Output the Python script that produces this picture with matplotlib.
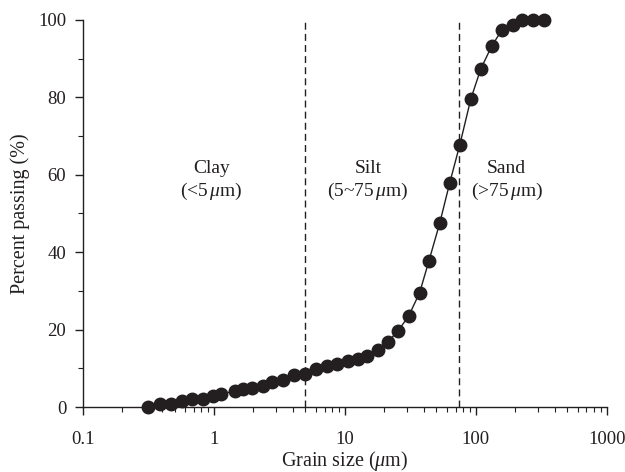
import matplotlib
matplotlib.use('Agg')
import matplotlib.pyplot as plt

# grain size distribution
grain_size = [0.313, 0.387, 0.47, 0.57, 0.68, 0.82, 0.98, 1.13, 1.45, 1.66,
              1.95, 2.37, 2.8, 3.36, 4.08, 4.95, 6.0, 7.3, 8.7, 10.5,
              12.6, 14.7, 17.9, 21.2, 25.4, 30.7, 37.2, 43.8, 53.0, 63.2,
              75.4, 91.6, 109, 132, 158, 191, 224, 272, 330]
passing = [0.0, 0.8, 0.8, 1.5, 2.0, 2.0, 2.8, 3.4, 4.1, 4.6,
           4.9, 5.4, 6.5, 7.0, 8.3, 8.5, 9.8, 10.6, 11.1, 11.9,
           12.4, 13.2, 14.7, 16.8, 19.6, 23.5, 29.5, 37.7, 47.5, 57.9,
           67.7, 79.6, 87.3, 93.2, 97.4, 98.7, 100.0, 100.0, 100.0]

bounds = [5, 75]
zone_names = ['Clay\n(<5$\\,\\mu$m)', 'Silt\n(5~75$\\,\\mu$m)', 'Sand\n(>75$\\,\\mu$m)']
zone_x = [0.96, 15, 172]

plt.rcParams['font.family'] = 'Liberation Serif'
plt.rcParams['mathtext.fontset'] = 'custom'
plt.rcParams['mathtext.it'] = 'Liberation Serif:italic'
plt.rcParams['mathtext.rm'] = 'Liberation Serif'

fig = plt.figure(figsize=(6.25, 4.72), dpi=100)
ax = fig.add_axes([0.1328, 0.1377, 0.838, 0.82])

ax.plot(grain_size, passing, '-', color='#231f20', lw=1.0,
        marker='o', ms=9, mfc='#231f20', mec='#231f20', clip_on=False, zorder=3)

for b in bounds:
    ax.axvline(b, color='#231f20', lw=1.0, ls=(0, (5, 3)))

for name, xx in zip(zone_names, zone_x):
    ax.text(xx, 58.5, name, ha='center', va='center', fontsize=14,
            color='#231f20', linespacing=1.25)

ax.set_xscale('log')
ax.set_xlim(0.1, 1000)
ax.set_ylim(0, 100)
ax.set_xticks([0.1, 1, 10, 100, 1000])
ax.set_xticklabels(['0.1', '1', '10', '100', '1000'])
ax.set_yticks([0, 20, 40, 60, 80, 100])
ax.set_yticks([10, 30, 50, 70, 90], minor=True)

ax.spines['top'].set_visible(False)
ax.spines['right'].set_visible(False)
for s in ['left', 'bottom']:
    ax.spines[s].set_color('#231f20')
    ax.spines[s].set_linewidth(1.0)

ax.tick_params(which='major', direction='out', length=6, width=1, labelsize=13.5,
               colors='#231f20')
ax.tick_params(axis='x', which='major', pad=11)
ax.tick_params(axis='y', which='major', pad=6)
ax.tick_params(which='minor', direction='out', length=3.5, width=0.8, colors='#231f20')

ax.set_xlabel('Grain size ($\\mu$m)', fontsize=14.5, color='#231f20', labelpad=1)
ax.set_ylabel('Percent passing (%)', fontsize=14.5, color='#231f20', labelpad=6)

fig.savefig('out.png', dpi=100)
